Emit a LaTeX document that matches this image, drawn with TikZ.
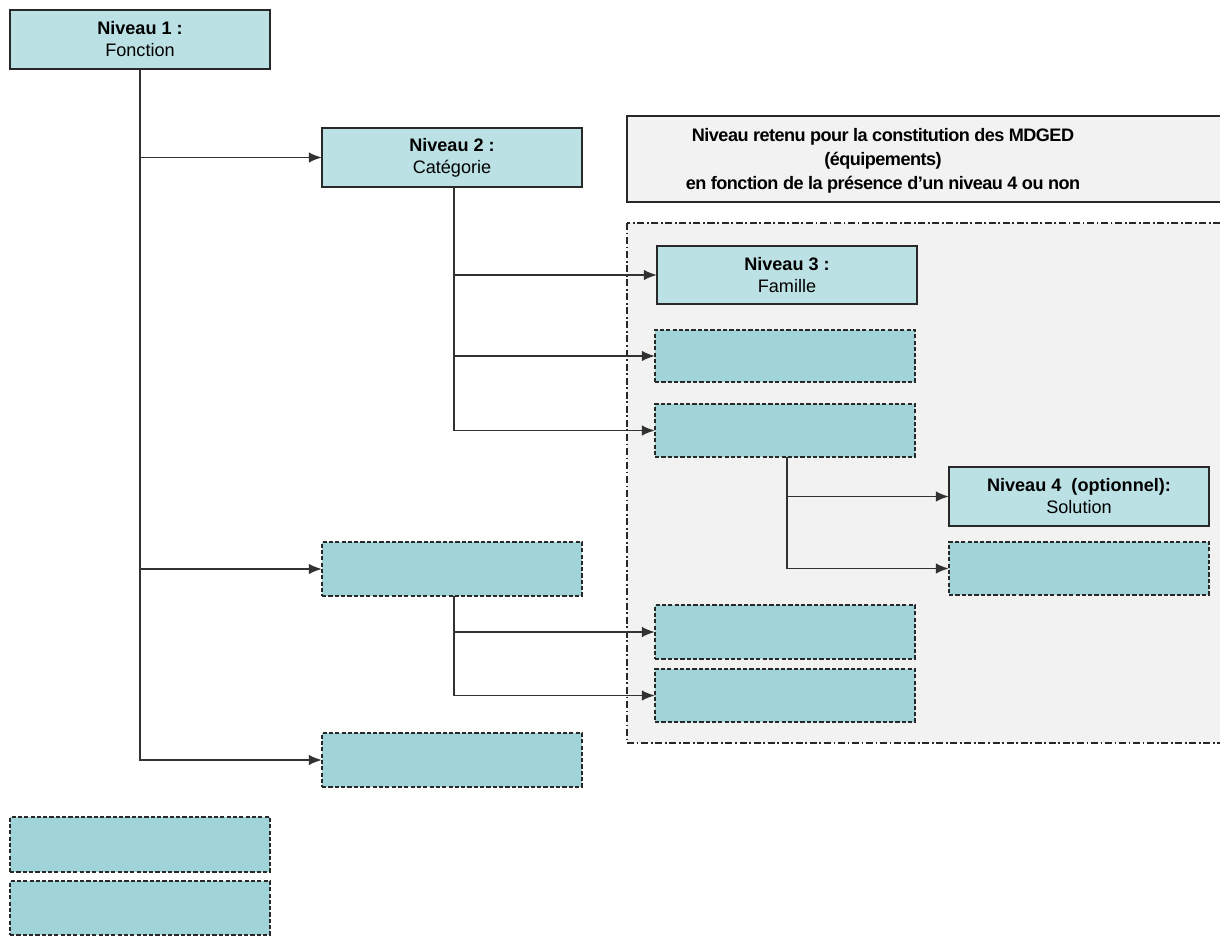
\documentclass[tikz,border=0pt]{standalone}
\usepackage{fontspec}
\setmainfont{Liberation Sans}
\newfontfamily\titlefont[LetterSpace=-3]{Liberation Sans}
\usetikzlibrary{arrows.meta}
\definecolor{solidfill}{RGB}{188,225,228}
\definecolor{dashfill}{RGB}{160,212,216}
\definecolor{zonefill}{RGB}{242,242,242}
\definecolor{edge}{RGB}{40,40,40}
\definecolor{wire}{RGB}{50,50,50}
\tikzset{
  solidbox/.style={draw=edge, line width=1pt, fill=solidfill, inner sep=0pt, outer sep=0pt,
    minimum width=260*0.02cm, minimum height=59*0.02cm, align=center, font=\fontsize{10.3pt}{12.5pt}\selectfont},
  dashbox/.style={draw=edge, line width=0.95pt, fill=dashfill, inner sep=0pt, outer sep=0pt,
    dash pattern=on 2.4pt off 1.2pt, minimum width=260*0.02cm, minimum height=53*0.02cm},
  conn/.style={draw=wire, line width=1.1pt, -{Latex[length=7.5pt,width=6pt]}},
}
\begin{document}
\begin{tikzpicture}[x=0.02cm, y=-0.02cm]
\path[use as bounding box] (0,0) rectangle (1220,936);
% zones
\path[fill=zonefill, draw=edge, line width=1pt] (627,116) rectangle (1226,202);
\node[align=center, font=\titlefont\bfseries\fontsize{10.3pt}{13.6pt}\selectfont] (title) at (883,161)
  {Niveau retenu pour la constitution des MDGED\\(équipements)\\en fonction de la présence d’un niveau 4 ou non};
\path[fill=zonefill, draw=edge, line width=0.9pt, dash pattern=on 4pt off 1.5pt on 1pt off 1.5pt] (627,223) rectangle (1226,743);
% nodes
\node[solidbox] (n1) at (140,39.5) {\textbf{Niveau 1 :}\\Fonction};
\node[solidbox] (n2) at (452,157.5) {\textbf{Niveau 2 :}\\Catégorie};
\node[solidbox, minimum height=58*0.02cm] (n3) at (787,275) {\textbf{Niveau 3 :}\\Famille};
\node[dashbox, minimum height=52*0.02cm] (a) at (785,356) {};
\node[dashbox] (b) at (785,430.5) {};
\node[solidbox] (n4) at (1079,496.5) {\textbf{Niveau 4\ \ (optionnel):}\\Solution};
\node[dashbox] (c) at (1079,568.5) {};
\node[dashbox, minimum height=54*0.02cm] (d) at (452,569) {};
\node[dashbox, minimum height=54*0.02cm] (e) at (785,632) {};
\node[dashbox] (f) at (785,695.5) {};
\node[dashbox, minimum height=54*0.02cm] (g) at (452,760) {};
\node[dashbox, minimum height=55*0.02cm] (h) at (140,844.5) {};
\node[dashbox, minimum height=54*0.02cm] (i) at (140,908) {};
% connectors
\draw[conn] (n1.south) |- (n2.west);
\draw[conn] (n1.south) |- (d.west);
\draw[conn] (n1.south) |- (g.west);
\draw[conn] ([xshift=2*0.02cm]n2.south) |- (n3.west);
\draw[conn] ([xshift=2*0.02cm]n2.south) |- (a.west);
\draw[conn] ([xshift=2*0.02cm]n2.south) |- (b.west);
\draw[conn] ([xshift=2*0.02cm]b.south) |- (n4.west);
\draw[conn] ([xshift=2*0.02cm]b.south) |- (c.west);
\draw[conn] ([xshift=2*0.02cm]d.south) |- (e.west);
\draw[conn] ([xshift=2*0.02cm]d.south) |- (f.west);
\end{tikzpicture}
\end{document}
